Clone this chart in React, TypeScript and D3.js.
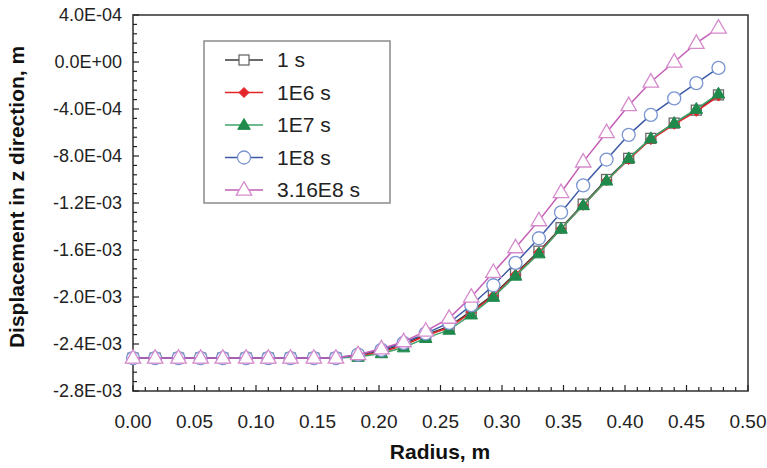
import React from "react";
import * as d3 from "d3";

const radius = [0, 0.018, 0.037, 0.055, 0.073, 0.092, 0.110, 0.128, 0.147, 0.165, 0.183, 0.202, 0.220, 0.238, 0.257, 0.275, 0.293, 0.311, 0.330, 0.348, 0.366, 0.385, 0.403, 0.421, 0.440, 0.458, 0.476];

// displacement values in units of 1e-3 m
const s1 = [-2.52, -2.52, -2.52, -2.52, -2.52, -2.52, -2.52, -2.52, -2.52, -2.52, -2.50, -2.46, -2.40, -2.32, -2.25, -2.12, -1.98, -1.80, -1.61, -1.41, -1.21, -1.00, -0.82, -0.65, -0.52, -0.41, -0.28];
const s1e6 = [-2.52, -2.52, -2.52, -2.52, -2.52, -2.52, -2.52, -2.52, -2.52, -2.52, -2.50, -2.47, -2.41, -2.33, -2.26, -2.13, -1.99, -1.81, -1.62, -1.42, -1.22, -1.01, -0.83, -0.66, -0.53, -0.42, -0.29];
const s1e7 = [-2.52, -2.52, -2.52, -2.52, -2.52, -2.52, -2.52, -2.52, -2.52, -2.52, -2.51, -2.48, -2.43, -2.35, -2.28, -2.15, -2.00, -1.82, -1.63, -1.42, -1.22, -1.01, -0.82, -0.65, -0.52, -0.40, -0.27];
const s1e8 = [-2.52, -2.52, -2.52, -2.52, -2.52, -2.52, -2.52, -2.52, -2.52, -2.52, -2.49, -2.45, -2.39, -2.31, -2.22, -2.07, -1.90, -1.71, -1.50, -1.28, -1.05, -0.83, -0.62, -0.45, -0.31, -0.18, -0.05];
const s316e8 = [-2.52, -2.52, -2.52, -2.52, -2.52, -2.52, -2.52, -2.52, -2.52, -2.52, -2.49, -2.44, -2.38, -2.29, -2.18, -2.00, -1.79, -1.58, -1.35, -1.11, -0.85, -0.60, -0.37, -0.17, 0.00, 0.16, 0.29];

const seriesNames = ["1 s", "1E6 s", "1E7 s", "1E8 s", "3.16E8 s"];
const seriesValues = [s1, s1e6, s1e7, s1e8, s316e8];

const xTickValues = [0, 0.05, 0.1, 0.15, 0.2, 0.25, 0.3, 0.35, 0.4, 0.45, 0.5];
const yTickValues = [4e-4, 0, -4e-4, -8e-4, -1.2e-3, -1.6e-3, -2.0e-3, -2.4e-3, -2.8e-3];

const W = 767, H = 468;
const PL = 133, PR = 748, PT = 15, PB = 391;

const styles = [
  { line: "#3a3a3a", marker: "square", stroke: "#6a6a6a", fill: "#ffffff" },
  { line: "#e3262b", marker: "diamond", stroke: "#e3262b", fill: "#e3262b" },
  { line: "#3fa36c", marker: "triangleFilled", stroke: "#1f8a4c", fill: "#1f8a4c" },
  { line: "#3d5aa6", marker: "circle", stroke: "#7a95d2", fill: "#ffffff" },
  { line: "#c45eb6", marker: "triangleOpen", stroke: "#d68bcd", fill: "#ffffff" },
];

function fmtY(v: number): string {
  const s = v.toExponential(1).toUpperCase();
  const [m, e] = s.split("E");
  const sign = e[0] === "-" ? "-" : "+";
  const digits = e.replace(/[+-]/, "").padStart(2, "0");
  return `${m}E${sign}${digits}`;
}

function Marker({ kind, x, y, stroke, fill }: { kind: string; x: number; y: number; stroke: string; fill: string }) {
  if (kind === "square") {
    const s = 10;
    return <rect x={x - s / 2} y={y - s / 2} width={s} height={s} fill={fill} stroke={stroke} strokeWidth={1.3} />;
  }
  if (kind === "diamond") {
    const r = 5;
    return <path d={`M${x},${y - r}L${x + r},${y}L${x},${y + r}L${x - r},${y}Z`} fill={fill} stroke={stroke} strokeWidth={1} />;
  }
  if (kind === "triangleFilled") {
    const s = 12.5;
    const h = s * 0.866;
    return <path d={`M${x},${y - h * 0.6}L${x + s / 2},${y + h * 0.4}L${x - s / 2},${y + h * 0.4}Z`} fill={fill} stroke={stroke} strokeWidth={1} />;
  }
  if (kind === "circle") {
    return <circle cx={x} cy={y} r={6.5} fill={fill} stroke={stroke} strokeWidth={1.3} />;
  }
  const s = 15.5;
  const h = s * 0.866;
  return <path d={`M${x},${y - h * 0.62}L${x + s / 2},${y + h * 0.38}L${x - s / 2},${y + h * 0.38}Z`} fill={fill} stroke={stroke} strokeWidth={1.3} />;
}

export default function App() {
  const x = d3.scaleLinear().domain([0, 0.5]).range([PL, PR]);
  const y = d3.scaleLinear().domain([-2.8e-3, 4e-4]).range([PB, PT]);

  const line = d3
    .line<[number, number]>()
    .x((d) => x(d[0]))
    .y((d) => y(d[1] * 1e-3));

  const xMinor = d3.range(0, 51).map((i) => i / 100);
  const yMinor = d3.range(0, 41).map((i) => -2.8e-3 + i * 8e-5);

  const font = "'Liberation Sans', Arial, sans-serif";
  const legendX = 204, legendY = 41, legendW = 186, legendH = 162;
  const rowH = 32.5;

  return (
    <svg width={W} height={H} style={{ position: "absolute", left: 0, top: 0, background: "#fff" }} fontFamily={font}>
      <rect x={0} y={0} width={W} height={H} fill="#fff" />
      {/* plot frame */}
      <rect x={PL} y={PT} width={PR - PL} height={PB - PT} fill="none" stroke="#3c3c3c" strokeWidth={1.6} />
      {/* x ticks */}
      {xMinor.map((v, i) => (
        <line key={"xm" + i} x1={x(v)} x2={x(v)} y1={PB} y2={PB - (i % 5 === 0 ? 6 : 4)} stroke="#222" strokeWidth={1.2} />
      ))}
      {/* y ticks */}
      {yMinor.map((v, i) => (
        <line key={"ym" + i} x1={PL} x2={PL + (i % 5 === 0 ? 6 : 4)} y1={y(v)} y2={y(v)} stroke="#222" strokeWidth={1.2} />
      ))}
      {xTickValues.map((v) => (
        <text key={"xt" + v} x={x(v)} y={428} textAnchor="middle" fontSize={19} fill="#222">
          {v.toFixed(2)}
        </text>
      ))}
      {yTickValues.map((v) => (
        <text key={"yt" + v} x={PL - 11} y={y(v)} dy="0.35em" textAnchor="end" fontSize={18} fill="#222">
          {fmtY(v)}
        </text>
      ))}
      <text x={440} y={459} textAnchor="middle" fontSize={21} fontWeight="bold" fill="#111">
        Radius, m
      </text>
      <text transform={`translate(24,${(PT + PB) / 2 - 6}) rotate(-90)`} textAnchor="middle" fontSize={21} fontWeight="bold" fill="#111">
        Displacement in z direction, m
      </text>
      {/* series */}
      {seriesValues.map((vals, si) => {
        const pts: [number, number][] = vals.map((v, i) => [radius[i], v]);
        const st = styles[si];
        return (
          <g key={"s" + si}>
            <path d={line(pts) || ""} fill="none" stroke={st.line} strokeWidth={1.5} />
            {pts.map((p, i) => (
              <Marker key={i} kind={st.marker} x={x(p[0])} y={y(p[1] * 1e-3)} stroke={st.stroke} fill={st.fill} />
            ))}
          </g>
        );
      })}
      {/* legend */}
      <rect x={legendX} y={legendY} width={legendW} height={legendH} fill="#fff" stroke="#8a8a8a" strokeWidth={1.5} />
      {seriesNames.map((name, i) => {
        const cy = legendY + 19 + i * rowH;
        const st = styles[i];
        return (
          <g key={"l" + i}>
            <line x1={225} x2={263} y1={cy} y2={cy} stroke={st.line} strokeWidth={1.5} />
            <Marker kind={st.marker} x={244} y={cy} stroke={st.stroke} fill={st.fill} />
            <text x={277} y={cy} dy="0.35em" fontSize={21} fill="#222">
              {name}
            </text>
          </g>
        );
      })}
    </svg>
  );
}
